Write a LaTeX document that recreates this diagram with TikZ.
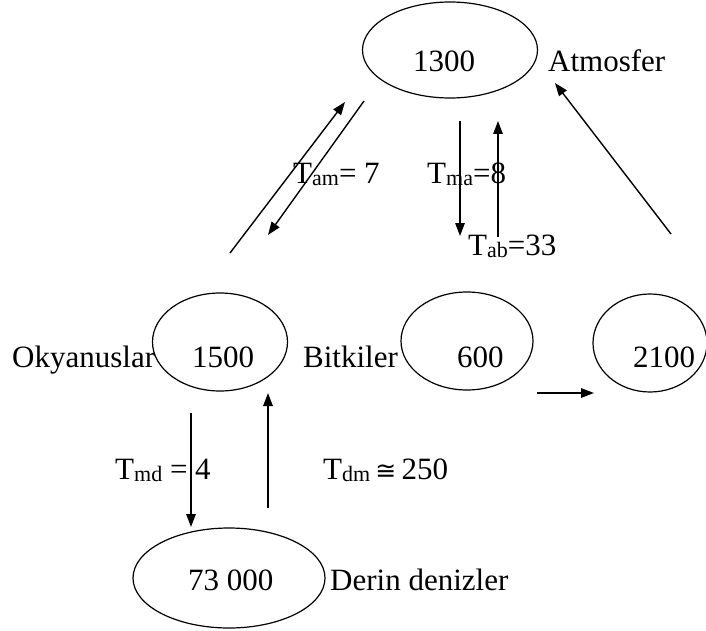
\documentclass[tikz,border=0pt]{standalone}
\usepackage{fontspec}
\setmainfont{Liberation Serif}
\newfontfamily\relfont{DejaVu Sans}
\usetikzlibrary{arrows.meta,shapes.geometric}
% lowered, smaller index after a flux symbol
\newcommand\fluxsub[1]{\raisebox{-2pt}{\fontsize{22}{22}\selectfont #1}}
\begin{document}
\begin{tikzpicture}[x=1pt,y=-1pt,
  pool/.style={draw,ellipse,line width=1.2pt,inner sep=0pt},
  lbl/.style={anchor=base west,inner sep=0pt,font=\fontsize{31}{37}\selectfont},
  flow/.style={line width=1.4pt,-{Triangle[length=13pt,width=9.5pt]}}]
\useasboundingbox (0,0) rectangle (706,631);

% reservoirs
\node[pool,minimum width=175pt,minimum height=96pt] (atm) at (450,50) {};
\node[pool,minimum width=135pt,minimum height=98pt] (ocean) at (220,342) {};
\node[pool,minimum width=132pt,minimum height=98pt] (plant) at (467,341) {};
\node[pool,minimum width=114pt,minimum height=98pt] (soil) at (650,343) {};
\node[pool,minimum width=192pt,minimum height=100pt] (deep) at (229,578) {};

% amounts and names
\node[lbl] (tatm) at (413,72) {1300};
\node[lbl] (natm) at (548,72) {Atmosfer};
\node[lbl] (nocean) at (12,367) {Okyanuslar};
\node[lbl] (tocean) at (192,367) {1500};
\node[lbl] (nplant) at (303,367) {Bitkiler};
\node[lbl] (tplant) at (457,367) {600};
\node[lbl] (tsoil) at (633,367) {2100};
\node[lbl] (tdeep) at (188,590) {73 000};
\node[lbl] (ndeep) at (330,590) {Derin denizler};

% flux labels
\node[lbl] (fam) at (293,183) {T\fluxsub{am}= 7};
\node[lbl] (fma) at (427,183) {T\fluxsub{ma}=8};
\node[lbl] (fab) at (468,255) {T\fluxsub{ab}=33};
\node[lbl] (fmd) at (115,479) {T\fluxsub{md} = 4};
\node[lbl] (fdm) at (323,479) {T\fluxsub{dm}\,{\relfont\fontsize{25}{30}\selectfont ≅}\,250};

% connector ends
\coordinate (a1) at (230,253); \coordinate (a2) at (345,102);
\coordinate (b1) at (364,101); \coordinate (b2) at (268,235);
\coordinate (c1) at (460,121); \coordinate (c2) at (460,236);
\coordinate (d1) at (498,237); \coordinate (d2) at (498,121);
\coordinate (e1) at (671,234); \coordinate (e2) at (555,83);
\coordinate (f1) at (537,393); \coordinate (f2) at (594,393);
\coordinate (g1) at (191,413); \coordinate (g2) at (191,527);
\coordinate (h1) at (268,508); \coordinate (h2) at (268,393);

% fluxes
\draw[flow] (a1) -- (a2);
\draw[flow] (b1) -- (b2);
\draw[flow] (c1) -- (c2);
\draw[flow] (d1) -- (d2);
\draw[flow] (e1) -- (e2);
\draw[flow] (f1) -- (f2);
\draw[flow] (g1) -- (g2);
\draw[flow] (h1) -- (h2);
\end{tikzpicture}
\end{document}
